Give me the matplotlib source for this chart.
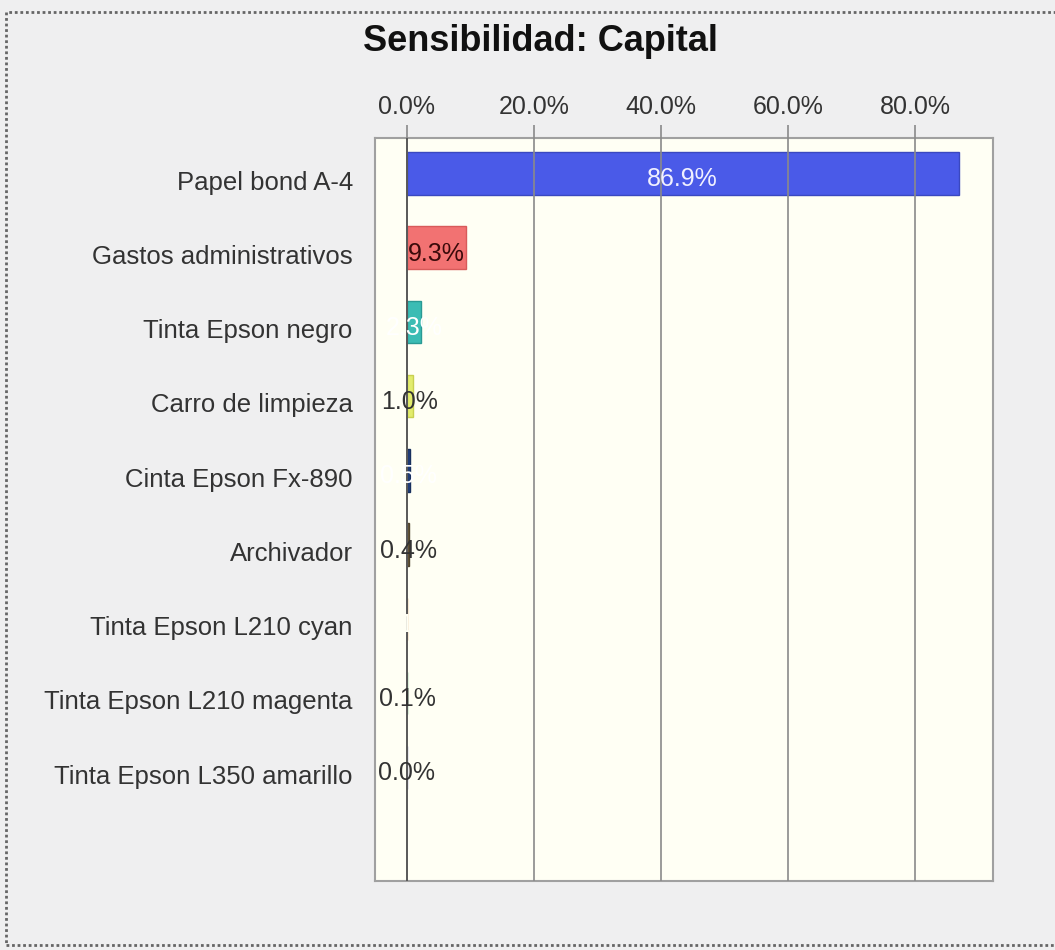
import matplotlib
matplotlib.use("Agg")
import matplotlib.pyplot as plt
from matplotlib.patches import Rectangle
import numpy as np

# contribution of each input to the variance of Capital (%)
categories = ['Papel bond A-4', 'Gastos administrativos', 'Tinta Epson negro',
              'Carro de limpieza', 'Cinta Epson Fx-890', 'Archivador',
              'Tinta Epson L210 cyan', 'Tinta Epson L210 magenta',
              'Tinta Epson L350 amarillo']
values = [86.9, 9.3, 2.3, 1.0, 0.5, 0.4, 0.1, 0.1, 0.0]
tick_values = [0, 20, 40, 60, 80]
tick_labels = ['0.0%', '20.0%', '40.0%', '60.0%', '80.0%']

bar_colors = ['#4a5ae8', '#f27272', '#3bbcb4', '#e2ec6c', '#22407c',
              '#6b5a3a', '#f2a868', '#68d088', '#a8a8e8']
edge_colors = ['#3a48c0', '#d85a5a', '#2a9a94', '#c8d050', '#18305e',
               '#50442c', '#d89050', '#50b070', '#8888c8']
label_colors = ['#f0f0ff', '#3a0a0a', 'white', '#333333', 'white',
                '#333333', '#fffff4', '#333333', '#333333']

plt.rcParams['font.family'] = ['Liberation Sans', 'DejaVu Sans']

fig = plt.figure(figsize=(10.55, 9.5), dpi=100)
fig.patch.set_facecolor('#efeff0')
ax = fig.add_axes([375/1055, 1-881/950, (993-375)/1055, (881-138)/950])
ax.set_facecolor('#fffff4')

y = np.arange(len(categories))
ax.barh(y - 0.09, values, height=0.57, color=bar_colors, edgecolor=edge_colors,
        linewidth=1.0, zorder=1)

for i, v in enumerate(values):
    ax.text(v / 2, y[i] - 0.01, '%.1f%%' % v, ha='center', va='center',
            fontsize=18, color=label_colors[i], zorder=4)

ax.set_xlim(-5.0, 92.3)
ax.set_ylim(len(categories) - 1 + 1.44, -0.566)

ax.xaxis.tick_top()
ax.set_xticks(tick_values)
ax.set_xticklabels(tick_labels)
ax.tick_params(axis='x', direction='out', length=9.5, width=1.2, color='#8a8a8a',
               pad=4, labelsize=18, labelcolor='#333333')
ax.set_yticks(y)
ax.set_yticklabels(categories)
ax.tick_params(axis='y', length=0, pad=16, labelsize=18.5, labelcolor='#333333')

ax.set_axisbelow(False)
ax.grid(axis='x', color='#8a8a8a', linewidth=1.2, zorder=2.5)
ax.axvline(0, color='#555555', linewidth=1.3, zorder=2.6)
for s in ax.spines.values():
    s.set_color('#a0a0a0')
    s.set_linewidth(1.5)

fig.text(0.512, 0.956, 'Sensibilidad: Capital', ha='center', va='center',
         fontsize=26, fontweight='bold', color='#111111')

# dotted frame round the panel
fig.patches.append(Rectangle((6/1055, 5/950), 1.05, 933/950, transform=fig.transFigure,
                             fill=False, edgecolor='#666666', linestyle=(0, (1, 1)),
                             linewidth=2))

fig.savefig('out.png', dpi=100, facecolor=fig.get_facecolor())
